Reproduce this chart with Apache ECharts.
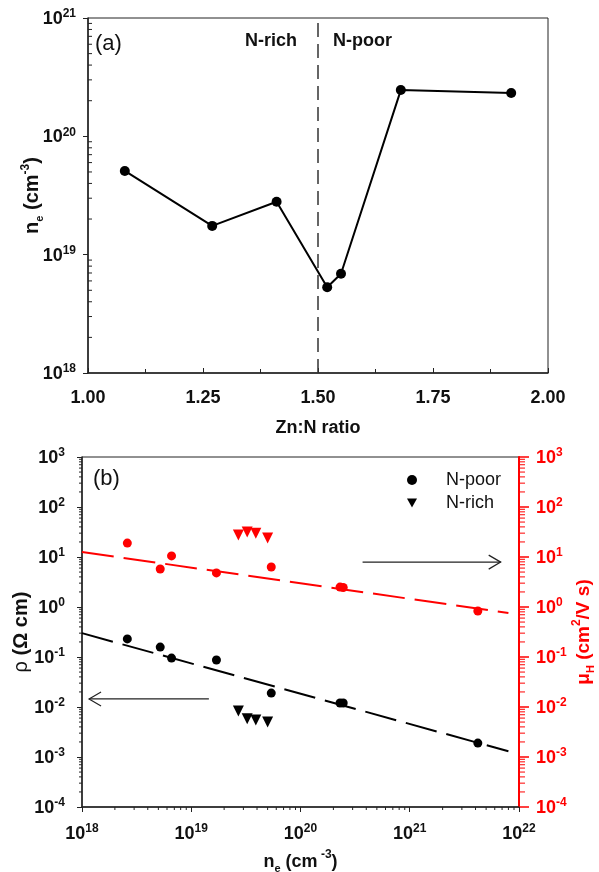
<!DOCTYPE html>
<html><head><meta charset="utf-8">
<script src="https://cdn.jsdelivr.net/npm/echarts@6/dist/echarts.min.js"></script>
<style>html,body{margin:0;padding:0;background:#fff}#c{width:599px;height:872px}</style>
</head><body><div id="c"></div>
<script>
// ---- panel (a) data ----
const ratio = [1.08, 1.27, 1.41, 1.52, 1.55, 1.68, 1.92];
const neTop = [5.1e19, 1.75e19, 2.8e19, 5.3e18, 6.9e18, 2.46e20, 2.32e20];
const boundaryRatio = 1.5;

// ---- panel (b) data ----
const nePoor  = [2.6e18, 5.2e18, 6.6e18, 1.7e19, 5.4e19, 2.3e20, 2.46e20, 4.2e21];
const rhoPoor = [0.23, 0.158, 0.095, 0.087, 0.019, 0.012, 0.012, 0.0019];
const muPoor  = [19, 5.75, 10.5, 4.8, 6.3, 2.5, 2.45, 0.83];
const neRich  = [2.7e19, 3.25e19, 3.9e19, 5.0e19];
const rhoRich = [0.0083, 0.0058, 0.0055, 0.005];
const muRich  = [27.5, 31.6, 30, 24];
const fitX    = [1e18, 8e21];
const rhoFitY = [0.30, 0.0013];
const muFitY  = [12.6, 0.76];
// annotation arrows (data coordinates)
const arrowRho = { from: [1.45e19, 0.0145], to: [1.16e18, 0.0145] };
const arrowMu  = { from: [3.7e20, 7.9], to: [6.8e21, 7.9] };

const FF = '"Liberation Sans", Arial, sans-serif';
const RED = '#ff0000';
const INK = '#222';

function zip(a, b) { return a.map((v, i) => [v, b[i]]); }
function logLabel(v) { const e = Math.round(Math.log10(v)); return '{b|10}{s|' + e + '}'; }
function richTick(color) {
  return {
    b: { fontSize: 18, fontWeight: 'bold', fontFamily: FF, color: color, lineHeight: 20, verticalAlign: 'bottom' },
    s: { fontSize: 12, fontWeight: 'bold', fontFamily: FF, color: color, lineHeight: 20, verticalAlign: 'top' }
  };
}
function richName(color, fs) {
  return {
    b: { fontSize: fs, fontWeight: 'bold', fontFamily: FF, color: color, lineHeight: 22, verticalAlign: 'bottom' },
    r: { fontSize: fs, fontWeight: 'normal', fontFamily: FF, color: color, lineHeight: 22, verticalAlign: 'bottom' },
    sub: { fontSize: 11, fontWeight: 'bold', fontFamily: FF, color: color, lineHeight: 22, verticalAlign: 'bottom', padding: [0, 0, -3, 0] },
    sup: { fontSize: 12, fontWeight: 'bold', fontFamily: FF, color: color, lineHeight: 22, verticalAlign: 'top' }
  };
}

const chart = echarts.init(document.getElementById('c'), null, { renderer: 'canvas' });

const option = {
  animation: false,
  backgroundColor: '#fff',
  grid: [
    { left: 88, top: 18, right: 51, bottom: 499, show: true, borderColor: INK, borderWidth: 1, containLabel: false, outerBoundsMode: 'none' },
    { left: 82, top: 457, right: 80, bottom: 65, show: true, borderColor: INK, borderWidth: 1, containLabel: false, outerBoundsMode: 'none' }
  ],
  xAxis: [
    { gridIndex: 0, type: 'value', min: 1, max: 2, interval: 0.25,
      axisLine: { lineStyle: { color: INK, width: 1.5 } },
      axisTick: { inside: true, length: 5, lineStyle: { color: INK } },
      minorTick: { show: true, splitNumber: 2, length: 4, lineStyle: { color: INK } },
      splitLine: { show: false },
      axisLabel: { margin: 16, formatter: v => v.toFixed(2), fontSize: 18, fontWeight: 'bold', fontFamily: FF, color: '#111' },
      name: 'Zn:N ratio', nameLocation: 'middle', nameGap: 46, nameMoveOverlap: false,
      nameTextStyle: { fontSize: 18, fontWeight: 'bold', fontFamily: FF, color: '#111' } },
    { gridIndex: 1, type: 'log', logBase: 10, min: 1e18, max: 1e22,
      axisLine: { lineStyle: { color: INK, width: 1.5 } },
      axisTick: { length: 5, lineStyle: { color: INK } },
      splitLine: { show: false },
      axisLabel: { margin: 16, formatter: logLabel, rich: richTick('#111') },
      name: '{b|n}{sub|e}{b| (cm}{sup| -3}{b|)}', nameLocation: 'middle', nameGap: 42, nameMoveOverlap: false,
      nameTextStyle: { rich: richName('#111', 18) } }
  ],
  yAxis: [
    { gridIndex: 0, type: 'log', logBase: 10, min: 1e18, max: 1e21,
      axisLine: { lineStyle: { color: INK, width: 1.5 } },
      axisTick: { length: 5, lineStyle: { color: INK } },
      splitLine: { show: false },
      axisLabel: { margin: 12, formatter: logLabel, rich: richTick('#111') },
      name: '{b|n}{sub|e}{b| (cm}{sup|-3}{b|)}', nameLocation: 'middle', nameGap: 46, nameMoveOverlap: false,
      nameTextStyle: { rich: richName('#111', 20) } },
    { gridIndex: 1, type: 'log', logBase: 10, min: 1e-4, max: 1e3, position: 'left',
      axisLine: { lineStyle: { color: INK, width: 1.5 } },
      axisTick: { length: 5, lineStyle: { color: INK } },
      splitLine: { show: false },
      axisLabel: { margin: 17, formatter: logLabel, rich: richTick('#111') },
      name: '{r|ρ}{b| (Ω cm)}', nameLocation: 'middle', nameGap: 51, nameMoveOverlap: false,
      nameTextStyle: { rich: richName('#111', 20) } },
    { gridIndex: 1, type: 'log', logBase: 10, min: 1e-4, max: 1e3, position: 'right',
      axisLine: { lineStyle: { color: RED, width: 2 } },
      axisTick: { length: 10, lineStyle: { color: RED, width: 1.5 } },
      splitLine: { show: false },
      axisLabel: { margin: 17, formatter: logLabel, rich: richTick(RED) },
      name: '{b|μ}{sub|H}{b| (cm}{sup|2}{b|/V s)}', nameLocation: 'middle', nameGap: 52, nameMoveOverlap: false,
      nameTextStyle: { rich: richName(RED, 19) } }
  ],
  legend: {
    orient: 'vertical', left: 402, top: 466, itemGap: 5, itemWidth: 10, itemHeight: 10,
    textStyle: { fontSize: 18, fontFamily: FF, color: '#111', padding: [0, 0, 0, 24], lineHeight: 18 },
    data: [
      { name: 'N-poor', icon: 'circle' },
      { name: 'N-rich', icon: 'path://M0,0 L10,0 L5,9 Z' }
    ]
  },
  series: [
    { type: 'line', xAxisIndex: 0, yAxisIndex: 0, data: zip(ratio, neTop),
      symbol: 'circle', symbolSize: 10, lineStyle: { color: '#000', width: 2 }, itemStyle: { color: '#000' },
      markLine: { silent: true, symbol: 'none', label: { show: false },
        lineStyle: { color: '#333', width: 1.5, type: [14, 7] }, data: [{ xAxis: boundaryRatio }] } },
    { type: 'line', xAxisIndex: 1, yAxisIndex: 1, data: zip(fitX, rhoFitY), symbol: 'none',
      lineStyle: { color: '#000', width: 2, type: [32, 10] } },
    { type: 'line', xAxisIndex: 1, yAxisIndex: 2, data: zip(fitX, muFitY), symbol: 'none',
      lineStyle: { color: RED, width: 2, type: [32, 10] } },
    { type: 'scatter', name: 'rho N-poor', xAxisIndex: 1, yAxisIndex: 1, data: zip(nePoor, rhoPoor),
      symbol: 'circle', symbolSize: 9, itemStyle: { color: '#000', opacity: 1 } },
    { type: 'scatter', name: 'rho N-rich', xAxisIndex: 1, yAxisIndex: 1, data: zip(neRich, rhoRich),
      symbol: 'triangle', symbolRotate: 180, symbolSize: 11, itemStyle: { color: '#000', opacity: 1 } },
    { type: 'scatter', name: 'mu N-poor', xAxisIndex: 1, yAxisIndex: 2, data: zip(nePoor, muPoor),
      symbol: 'circle', symbolSize: 9, itemStyle: { color: RED, opacity: 1 } },
    { type: 'scatter', name: 'mu N-rich', xAxisIndex: 1, yAxisIndex: 2, data: zip(neRich, muRich),
      symbol: 'triangle', symbolRotate: 180, symbolSize: 11, itemStyle: { color: RED, opacity: 1 } },
    { type: 'scatter', name: 'N-poor', xAxisIndex: 1, yAxisIndex: 1, data: [], itemStyle: { color: '#000', opacity: 1 } },
    { type: 'scatter', name: 'N-rich', xAxisIndex: 1, yAxisIndex: 1, data: [], itemStyle: { color: '#000', opacity: 1 } }
  ]
};
chart.setOption(option);

// ---- minor log ticks and annotations, positioned through the chart's own scales ----
const g = [];
function px(xi, v) { return chart.convertToPixel({ xAxisIndex: xi }, v); }
function py(yi, v) { return chart.convertToPixel({ yAxisIndex: yi }, v); }
function vMinor(yi, lo, hi, x0, dir, len, color) {
  for (let d = lo; d < hi; d++) for (let k = 2; k <= 9; k++) {
    const y = py(yi, k * Math.pow(10, d));
    g.push({ type: 'line', silent: true, shape: { x1: x0, y1: y, x2: x0 + dir * len, y2: y }, style: { stroke: color, lineWidth: 1 } });
  }
}
function hMinor(xi, lo, hi, y0, dir, len, color) {
  for (let d = lo; d < hi; d++) for (let k = 2; k <= 9; k++) {
    const x = px(xi, k * Math.pow(10, d));
    g.push({ type: 'line', silent: true, shape: { x1: x, y1: y0, x2: x, y2: y0 + dir * len }, style: { stroke: color, lineWidth: 1 } });
  }
}
const topLeftX = px(0, 1);
const botLeftX = px(1, 1e18), botRightX = px(1, 1e22);
const botBottomY = py(1, 1e-4);
vMinor(0, 18, 21, topLeftX, 1, 4, INK);
vMinor(1, -4, 3, botLeftX, -1, 3, INK);
vMinor(2, -4, 3, botRightX, 1, 6, RED);
hMinor(1, 18, 22, botBottomY, 1, 3, INK);

function arrow(a, yi, color) {
  const x1 = px(1, a.from[0]), y1 = py(yi, a.from[1]);
  const x2 = px(1, a.to[0]), y2 = py(yi, a.to[1]);
  const dir = Math.sign(x2 - x1);
  g.push({ type: 'line', silent: true, shape: { x1, y1, x2, y2 }, style: { stroke: color, lineWidth: 1.2 } });
  g.push({ type: 'polyline', silent: true, shape: { points: [[x2 - dir * 12, y2 - 7], [x2, y2], [x2 - dir * 12, y2 + 7]] },
    style: { stroke: color, lineWidth: 1.2, fill: null } });
}
arrow(arrowRho, 1, '#222');
arrow(arrowMu, 2, '#222');

g.push({ type: 'text', left: 95, top: 33, style: { text: '(a)', font: '22px ' + FF, fill: '#111' } });
g.push({ type: 'text', left: 245, top: 32, style: { text: 'N-rich', font: 'bold 18px ' + FF, fill: '#111' } });
g.push({ type: 'text', left: 333, top: 32, style: { text: 'N-poor', font: 'bold 18px ' + FF, fill: '#111' } });
g.push({ type: 'text', left: 93, top: 468, style: { text: '(b)', font: '22px ' + FF, fill: '#111' } });

chart.setOption({ graphic: g });
</script>
</body></html>
